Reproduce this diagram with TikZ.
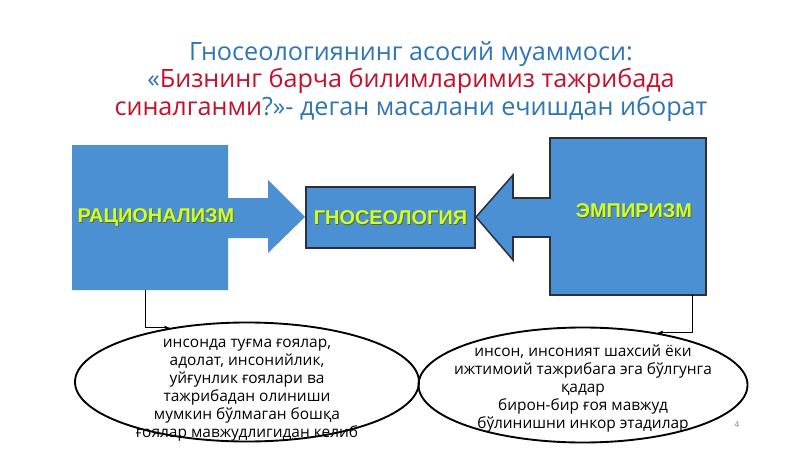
\documentclass[tikz,border=0pt]{standalone}
\usepackage{fontspec}
\setmainfont{Open Sans}
\newfontfamily\labelfont{Liberation Sans}
\usetikzlibrary{shapes.geometric,arrows.meta,positioning}
\definecolor{boxblue}{RGB}{74,144,210}
\definecolor{edgegray}{RGB}{45,48,58}
\definecolor{titleblue}{RGB}{46,117,182}
\definecolor{titlered}{RGB}{196,16,44}
\definecolor{labelgreen}{RGB}{210,255,40}
\definecolor{labelshade}{RGB}{90,100,40}

\begin{document}
\begin{tikzpicture}[x=0.03cm, y=-0.03cm,
  titletext/.style={font=\fontsize{21.5}{23.6}\selectfont, align=center, text=titleblue},
  boxlabel/.style={font=\labelfont\bfseries\fontsize{17}{17}\selectfont, text=labelgreen, inner sep=0pt},
  boxshade/.style={font=\labelfont\bfseries\fontsize{17}{17}\selectfont, text=labelshade, inner sep=0pt},
  boxpart/.style={rectangle, inner sep=0pt},
  bubble/.style={ellipse, draw, line width=1.6pt, inner sep=0pt},
  bubbletext/.style={font=\fontsize{13.2}{15.3}\selectfont, align=center},
  conn/.style={line width=0.8pt, -{Stealth[length=5pt, width=4pt]}}]
  \useasboundingbox (0,0) rectangle (800,449);

  % sarlavha
  \node[titletext] (title) at (411,81.5)
    {Гносеологиянинг асосий муаммоси:\\
     «\textcolor{titlered}{Бизнинг барча билимларимиз тажрибада}\\
     \textcolor{titlered}{синалганми}?»- деган масалани ечишдан иборат};

  % чап блок
  \fill[boxblue] (72,145) -- (228,145) -- (228,198) -- (268,198) -- (268,180)
    -- (305,217) -- (268,253) -- (268,238) -- (228,238) -- (228,290) -- (72,290) -- cycle;
  \node[boxpart, minimum width=4.68cm, minimum height=4.35cm] (ratbox) at (150,217.5) {};
  \node[boxshade] (ratshade) at (156.7,218.7) {РАЦИОНАЛИЗМ};
  \node[boxlabel] (rat) at (156,218) {РАЦИОНАЛИЗМ};

  % ўнг блок
  \filldraw[fill=boxblue, draw=edgegray, line width=1.3pt]
    (550,138) -- (706,138) -- (706,295) -- (550,295) -- (550,237) -- (513,237)
    -- (513,260) -- (476,217) -- (513,175) -- (513,198) -- (550,198) -- cycle;
  \node[boxpart, minimum width=4.68cm, minimum height=4.71cm] (empbox) at (628,216.5) {};
  \node[boxshade] (empshade) at (634.7,211.7) {ЭМПИРИЗМ};
  \node[boxlabel] (emp) at (634,211) {ЭМПИРИЗМ};

  % ўрта блок
  \node[rectangle, fill=boxblue, draw=edgegray, line width=1.6pt,
    minimum width=5.07cm, minimum height=1.83cm] (gnobox) at (390.5,217.5) {};
  \node[boxshade] (gnoshade) at (391.2,218.7) {ГНОСЕОЛОГИЯ};
  \node[boxlabel] (gno) at (390.5,218) {ГНОСЕОЛОГИЯ};

  % эллипслар
  \node[bubble, minimum width=10.32cm, minimum height=3.57cm] (ellL) at (247,382) {};
  \node[bubble, minimum width=9.87cm, minimum height=3.45cm] (ellR) at (583,385) {};

  \node[bubbletext] (ratText) at (247,390)
    {инсонда туғма ғоялар,\\ адолат, инсонийлик,\\ уйғунлик ғоялари ва\\
     тажрибадан олиниши\\ мумкин бўлмаган бошқа\\ ғоялар мавжудлигидан келиб};
  \node[bubbletext] (empText) at (583,388.5)
    {инсон, инсоният шахсий ёки\\ ижтимоий тажрибага эга бўлгунга\\ қадар\\
     бирон-бир ғоя мавжуд\\ бўлинишни инкор этадилар};

  % боғловчилар
  \draw[conn] ([xshift=-0.15cm]ratbox.south) |- (ellL.145);
  \draw[conn] ([xshift=-0.42cm]empbox.south east) |- (ellR.35);

  % бет рақами
  \node[font=\fontsize{7}{7}\selectfont, text=gray] (page) at (737,425) {4};
\end{tikzpicture}
\end{document}
